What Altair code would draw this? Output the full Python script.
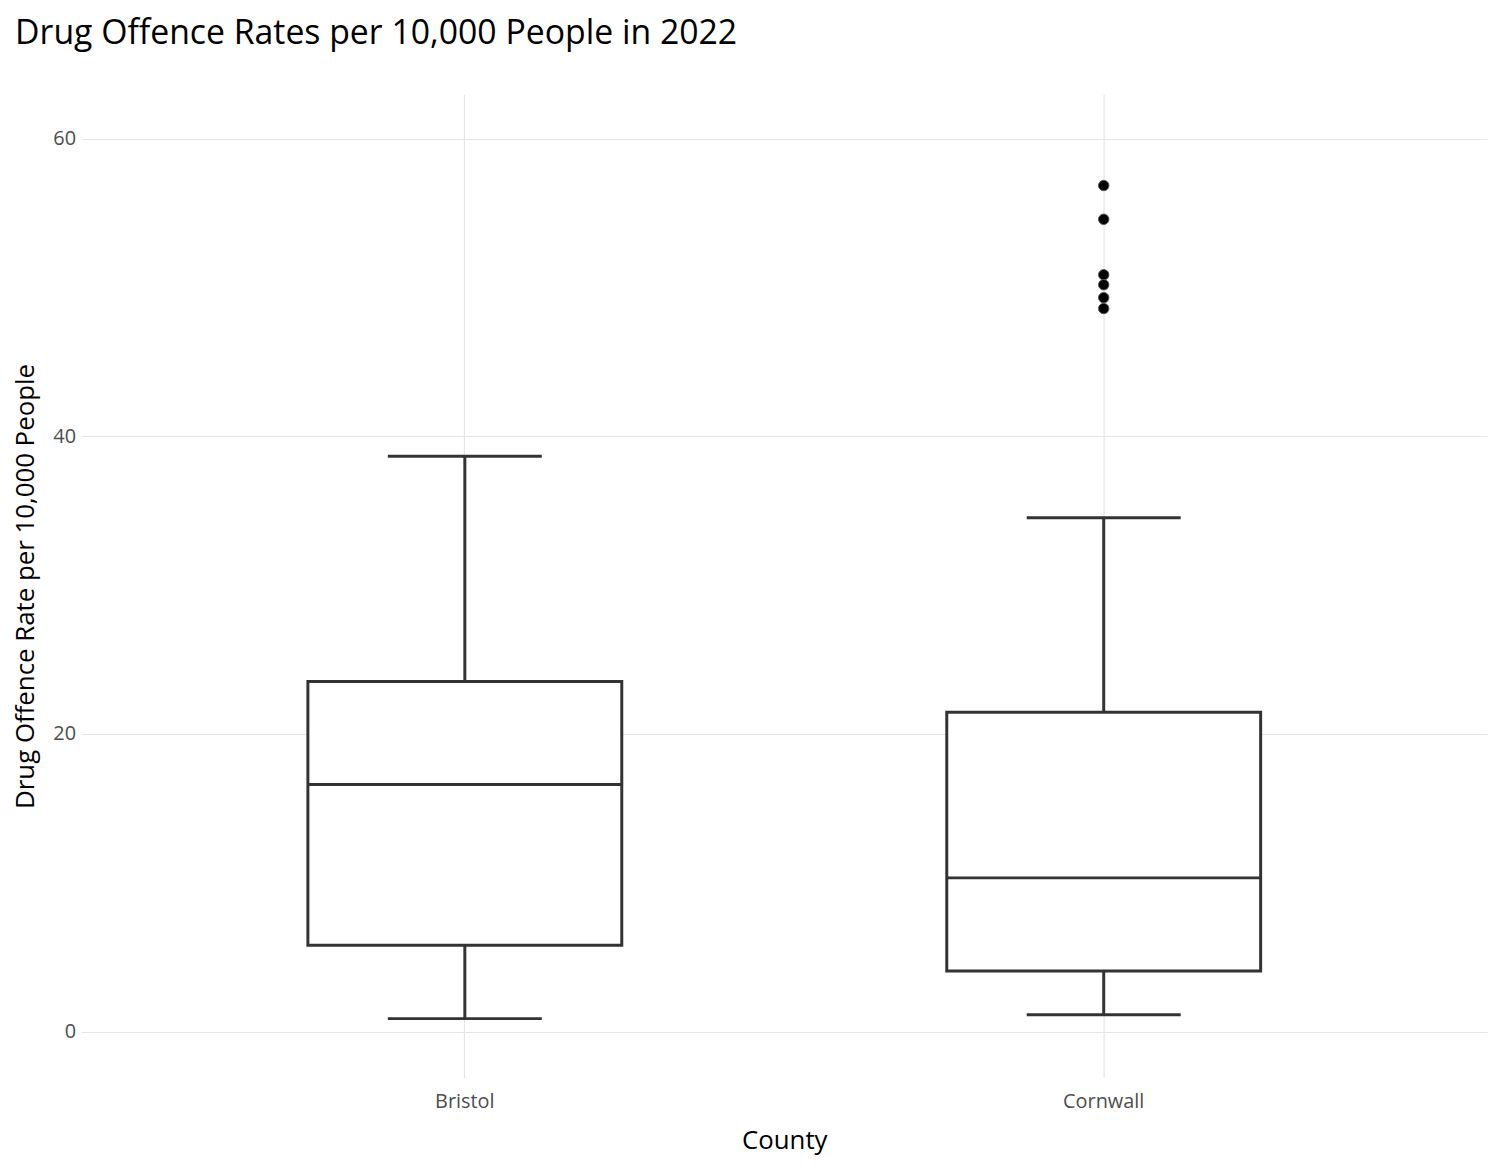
import altair as alt
import pandas as pd

counties = ["Bristol", "Cornwall"]
lower = [0.87, 1.13]
q1 = [5.8, 4.07]
median = [16.6, 10.33]
q3 = [23.53, 21.47]
upper = [38.67, 34.53]
out_county = ["Cornwall"] * 6
out_values = [56.87, 54.6, 50.87, 50.2, 49.33, 48.6]

df = pd.DataFrame({"county": counties, "lower": lower, "q1": q1, "median": median, "q3": q3, "upper": upper})
odf = pd.DataFrame({"county": out_county, "value": out_values})

F = "Open Sans"
x = alt.X("county:N", title="County", sort=counties,
          scale=alt.Scale(paddingInner=0, paddingOuter=0.1),
          axis=alt.Axis(labelAngle=0, grid=True, domain=False, ticks=False,
                        labelPadding=14, titlePadding=16))
yscale = alt.Scale(domain=[-3.1, 63], nice=False, zero=False)
yaxis = alt.Axis(values=[0, 20, 40, 60], domain=False, ticks=False, titlePadding=14, labelPadding=6)

base = alt.Chart(df)
whisk_lo = base.mark_rule(color="#333333", strokeWidth=3).encode(
    x=x, y=alt.Y("lower:Q", scale=yscale, axis=yaxis, title="Drug Offence Rate per 10,000 People"), y2="q1:Q")
whisk_hi = base.mark_rule(color="#333333", strokeWidth=3).encode(x=x, y="q3:Q", y2="upper:Q")
box = base.mark_bar(fill="white", stroke="#333333", strokeWidth=3, size=316).encode(x=x, y="q1:Q", y2="q3:Q")
med = base.mark_tick(color="#333333", thickness=3, size=316, opacity=1).encode(x=x, y="median:Q")
cap_lo = base.mark_tick(color="#333333", thickness=3, size=155, opacity=1).encode(x=x, y="lower:Q")
cap_hi = base.mark_tick(color="#333333", thickness=3, size=155, opacity=1).encode(x=x, y="upper:Q")
pts = alt.Chart(odf).mark_point(filled=True, fill="black", stroke="#555555", strokeWidth=1,
                                size=110, opacity=1).encode(x=x, y="value:Q")

chart = alt.layer(whisk_lo, whisk_hi, box, med, cap_lo, cap_hi, pts).properties(
    width=1415, height=990,
    title=alt.TitleParams("Drug Offence Rates per 10,000 People in 2022", anchor="start",
                          fontSize=34, fontWeight="normal", color="black", offset=44, dx=2)
).configure(font=F).configure_view(stroke=None).configure_axis(
    labelFontSize=20, labelColor="#4d4d4d", titleFontSize=26, titleFontWeight="normal",
    titleColor="black", gridColor="#e5e5e5", gridWidth=1.2)

chart.save("out.html", embed_options={"renderer": "svg", "actions": False})
